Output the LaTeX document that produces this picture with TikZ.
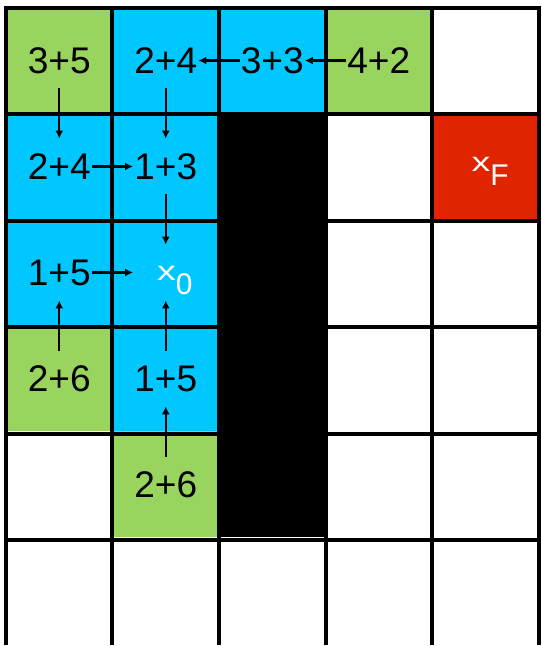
\documentclass[tikz,border=0pt]{standalone}
\usepackage{fontspec}
\setmainfont{Liberation Sans}
\usetikzlibrary{arrows.meta}

\definecolor{cellgreen}{RGB}{152,212,94}
\definecolor{cellblue}{RGB}{0,199,255}
\definecolor{cellred}{RGB}{225,36,0}

\newcommand{\wx}{\scalebox{1.25}[0.9]{x}}

\begin{document}
\begin{tikzpicture}[
    x=1cm, y=0.995cm,
    val/.style={minimum width=0.6cm, minimum height=0.51cm, inner sep=0pt, align=center, font=\fontsize{9.9}{11}\selectfont},
    goal/.style={val, text=white, font=\fontsize{8}{9}\selectfont},
    line/.style={draw, -{Latex[length=2.1pt,width=2.1pt]}, line width=0.55pt}
]
    \useasboundingbox (-0.056,0.071) rectangle (5.024,-6.024);

    % Cell colours
    \foreach \c/\r in {0/0, 3/0, 0/3, 1/4}
        \fill[cellgreen] (\c,-\r) rectangle ++(1,-1);
    \foreach \c/\r in {1/0, 2/0, 0/1, 1/1, 0/2, 1/2, 1/3}
        \fill[cellblue] (\c,-\r) rectangle ++(1,-1);
    \foreach \c/\r in {2/1, 2/2, 2/3, 2/4}
        \fill[black] (\c,-\r) rectangle ++(1,-1);
    \fill[cellred] (4,-1) rectangle ++(1,-1);

    \draw[line width=1.07pt, line cap=rect] (0,-6) grid (5,0);

    % Values
    \node[val] (v_r0c0) at (0.5, -0.5) {3+5};
    \node[val] (v_r0c1) at (1.5, -0.5) {2+4};
    \node[val] (v_r0c2) at (2.5, -0.5) {3+3};
    \node[val] (v_r0c3) at (3.5, -0.5) {4+2};

    \node[val] (v_r1c0) at (0.5, -1.5) {2+4};
    \node[val] (v_r1c1) at (1.5, -1.5) {1+3};

    \node[val] (v_r2c0) at (0.5, -2.5) {1+5};
    \node[goal] (start) at (1.5, -2.5) {\raisebox{-2.1pt}[0pt][0pt]{\hspace*{4.8pt}\wx\raisebox{-3.7pt}{0}}};

    \node[val] (v_r3c0) at (0.5, -3.5) {2+6};
    \node[val] (v_r3c1) at (1.5, -3.5) {1+5};

    \node[val] (v_r4c1) at (1.5, -4.5) {2+6};

    \node[goal, xshift=1.3pt, yshift=-1.3pt] (final) at (4.5, -1.5) {\wx\raisebox{-3.7pt}{F}};

    % Back pointers
    \draw[line] (v_r0c2) -- (v_r0c1);
    \draw[line] (v_r0c3) -- (v_r0c2);
    \draw[line] (v_r0c0) -- (v_r1c0);
    \draw[line] (v_r0c1) -- (v_r1c1);
    \draw[line] (v_r1c0) -- (v_r1c1);
    \draw[line] (v_r1c1) -- (start);
    \draw[line] (v_r2c0) -- (start);
    \draw[line] (v_r3c0) -- (v_r2c0);
    \draw[line] (v_r3c1) -- (start);
    \draw[line] (v_r4c1) -- (v_r3c1);

\end{tikzpicture}
\end{document}
